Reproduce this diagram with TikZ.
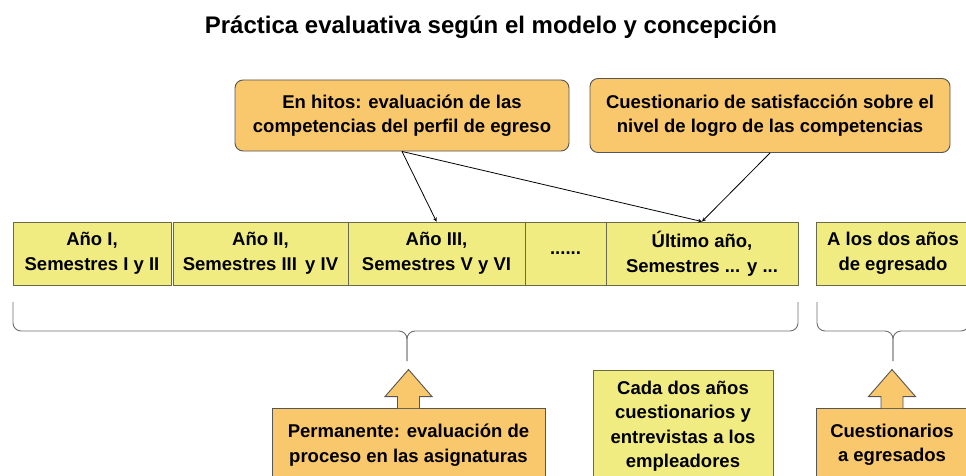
\documentclass[tikz,border=0pt]{standalone}
\usepackage{fontspec}
\setmainfont{Liberation Sans}
\usetikzlibrary{positioning,calc}
\definecolor{orangefill}{RGB}{249,199,108}
\definecolor{yellowfill}{RGB}{240,236,130}
\definecolor{boxline}{RGB}{85,85,85}
\definecolor{yellowline}{RGB}{105,105,75}
\definecolor{braceline}{RGB}{110,110,110}

\begin{document}
\begin{tikzpicture}[x=1pt,y=-1pt,every node/.style={font=\bfseries\fontsize{18.5}{24.5}\selectfont}]
\tikzstyle{arrow} = [line width=0.8pt,->,>=stealth]
\tikzstyle{milestone} = [draw=boxline,fill=orangefill,line width=0.9pt,rounded corners=8pt,align=center,inner sep=0]
\tikzstyle{period} = [draw=yellowline,fill=yellowfill,line width=0.9pt,align=center,inner sep=0,minimum height=63pt]
\tikzstyle{callout} = [draw=boxline,fill=orangefill,line width=0.9pt,align=center,inner sep=0]
\tikzstyle{brace} = [draw=braceline,line width=0.9pt,rounded corners=8pt]

\useasboundingbox (0,0) rectangle (966,476);

\node(title) at (491,27) {\fontsize{24}{28}\selectfont Práctica evaluativa según el modelo y concepción};

% instrumentos arriba
\node(hitos)[milestone, minimum width=334pt, minimum height=71pt] at (402,115.5) {En hitos: evaluación de las\\competencias del perfil de egreso};
\node(satisf)[milestone, minimum width=360pt, minimum height=74pt, right of=hitos, node distance=368pt] {Cuestionario de satisfacción sobre el\\nivel de logro de las competencias};

% años de la carrera
\node(anoI)[period, minimum width=158pt] at (92,253.5) {Año I,\\Semestres I y II};
\node(anoII)[period, minimum width=175pt, right of=anoI, node distance=168.5pt] {Año II,\\Semestres III\,  y IV};
\node(anoIII)[period, minimum width=177pt, right of=anoII, node distance=176pt] {Año III,\\Semestres V y VI};
\node(dots)[period, minimum width=81pt, right of=anoIII, node distance=129pt] {......};
\node(ultimo)[period, minimum width=192pt, right of=dots, node distance=136.5pt] {Último año,\\Semestres ... y ...};
\node(egreso)[period, minimum width=154pt, right of=ultimo, node distance=191pt] {A los dos años\\de egresado};

\draw [arrow] (hitos.south) -- (anoIII.north);
\draw [arrow] (hitos.south) -- (ultimo.north);
\draw [arrow] (satisf.south) -- (ultimo.north);

% llaves
\coordinate(carreraL) at (13,302);
\coordinate(carreraR) at (798,302);
\coordinate(carreraTip) at (407,361);
\coordinate(egresoL) at (817,302);
\coordinate(egresoR) at (969,302);
\coordinate(egresoTip) at (893,361);
\draw [brace] (carreraL) |- (carreraTip |- 0,331) -- (carreraTip);
\draw [brace] (carreraR) |- (carreraTip |- 0,331) -- (carreraTip);
\draw [brace] (egresoL) |- (egresoTip |- 0,331) -- (egresoTip);
\draw [brace] (egresoR) |- (egresoTip |- 0,331) -- (egresoTip);

% instrumentos abajo
\node(permanente)[callout, minimum width=273pt, minimum height=74pt] at (408.5,445) {Permanente: evaluación de\\proceso en las asignaturas};
\node(empleadores)[period, minimum width=180pt, minimum height=112pt] at (683,426) {Cada dos años\\cuestionarios y\\entrevistas a los\\empleadores};
\node(egresados)[callout, minimum width=152pt, minimum height=74pt] at (892,445) {Cuestionarios\\a egresados};

\draw [callout] ($(permanente.north)+(-11,0.5)$) -- ++(0,-11.5) -- ++(-12.5,0) -- ($(permanente.north)+(0,-38)$) -- ($(permanente.north)+(23.5,-11)$) -- ++(-12.5,0) -- ++(0,11.5);
\draw [callout] ($(egresados.north)+(-11,0.5)$) -- ++(0,-11.5) -- ++(-12.5,0) -- ($(egresados.north)+(0,-38)$) -- ($(egresados.north)+(23.5,-11)$) -- ++(-12.5,0) -- ++(0,11.5);
\end{tikzpicture}
\end{document}
